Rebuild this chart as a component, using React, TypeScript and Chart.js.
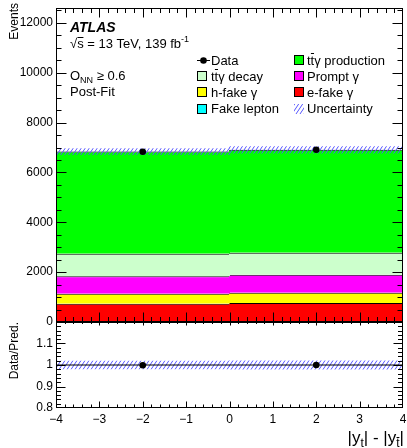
import React, { useEffect, useRef } from 'react';
import { Chart, registerables } from 'chart.js';

Chart.register(...registerables);

const FONT = '"Liberation Sans", Arial, Helvetica, sans-serif';

// ---------------- data ----------------
const binLabels = ['-4 to 0', '0 to 4'];
const binCenters = [-2, 2];
const fakeLepton = [20, 20];
const eFakeGamma = [715, 740];
const hFakeGamma = [400, 416];
const promptGamma = [705, 720];
const ttyDecay = [895, 880];
const ttyProduction = [4105, 4132];
const dataEvents = [6830, 6910];
const relUncertainty = [0.02, 0.021];
const xRange = [-4, 4];
const xTicks = [-4, -3, -2, -1, 0, 1, 2, 3, 4];
const yRangeTop = [0, 12600];
const yTicksTop = [0, 2000, 4000, 6000, 8000, 10000, 12000];
const yRangeRatio = [0.8, 1.2];
const yTicksRatio = [0.8, 0.9, 1.0, 1.1];

// ---------------- helpers ----------------
type Part = { t: string; size?: number; dy?: number; weight?: string; over?: boolean };

function drawParts(ctx: CanvasRenderingContext2D, parts: Part[], x: number, y: number, base = 13, align: 'left' | 'right' = 'left') {
  const fonts = parts.map((p) => `${p.weight ?? ''} ${p.size ?? base}px ${FONT}`.trim());
  const widths = parts.map((p, i) => {
    ctx.font = fonts[i];
    return ctx.measureText(p.t).width;
  });
  const total = widths.reduce((a, b) => a + b, 0);
  let cx = align === 'right' ? x - total : x;
  ctx.textAlign = 'left';
  ctx.textBaseline = 'alphabetic';
  ctx.fillStyle = '#000';
  parts.forEach((p, i) => {
    ctx.font = fonts[i];
    const yy = y + (p.dy ?? 0);
    ctx.fillText(p.t, cx, yy);
    if (p.over) {
      const s = p.size ?? base;
      ctx.save();
      ctx.strokeStyle = '#000';
      ctx.lineWidth = 1;
      ctx.beginPath();
      const ly = Math.round(yy - s * 0.86) + 0.5;
      ctx.moveTo(cx + 0.3, ly);
      ctx.lineTo(cx + widths[i] - 0.2, ly);
      ctx.stroke();
      ctx.restore();
    }
    cx += widths[i];
  });
}

function makeHatch(): CanvasPattern {
  const c = document.createElement('canvas');
  c.width = 4;
  c.height = 6;
  const g = c.getContext('2d')!;
  g.strokeStyle = 'rgb(85,85,255)';
  g.lineWidth = 1;
  for (const x0 of [-4, 0, 4]) {
    g.beginPath();
    g.moveTo(x0, 6);
    g.lineTo(x0 + 4, 0);
    g.stroke();
  }
  return g.createPattern(c, 'repeat')!;
}

type FrameOpts = {
  xMinor: number; yMinor: number;
  yMaj: number; yMin: number;
  xBotMaj: number; xBotMin: number;
  xTopMaj: number; xTopMin: number;
};

function framePlugin(o: FrameOpts) {
  return {
    id: 'rootFrame',
    afterDatasetsDraw(chart: any) {
      const { ctx, chartArea: a } = chart;
      const xs = chart.scales.xl;
      const ys = chart.scales.y;
      const L = Math.round(a.left) + 0.5;
      const R = Math.round(a.right) - 0.5;
      const T = Math.round(a.top) + 0.5;
      const B = Math.round(a.bottom) - 0.5;
      const clampY = (v: number) => Math.min(B, Math.max(T, v));
      const clampX = (v: number) => Math.min(R, Math.max(L, v));
      ctx.save();
      ctx.strokeStyle = '#000';
      ctx.lineWidth = 1;
      ctx.beginPath();
      const yMajVals: number[] = ys.ticks.map((t: any) => t.value);
      const ny = Math.round((ys.max - ys.min) / o.yMinor);
      for (let k = 0; k <= ny; k++) {
        const v = ys.min + k * o.yMinor;
        const isMaj = yMajVals.some((m) => Math.abs(m - v) < o.yMinor * 1e-3);
        const len = isMaj ? o.yMaj : o.yMin;
        const py = clampY(Math.round(ys.getPixelForValue(v)) + 0.5);
        ctx.moveTo(L, py); ctx.lineTo(L + len, py);
        ctx.moveTo(R, py); ctx.lineTo(R - len, py);
      }
      const xMajVals: number[] = xs.ticks.map((t: any) => t.value);
      const nx = Math.round((xs.max - xs.min) / o.xMinor);
      for (let k = 0; k <= nx; k++) {
        const v = xs.min + k * o.xMinor;
        const isMaj = xMajVals.some((m) => Math.abs(m - v) < 1e-6);
        const px = clampX(Math.round(xs.getPixelForValue(v)) + 0.5);
        const lb = isMaj ? o.xBotMaj : o.xBotMin;
        const lt = isMaj ? o.xTopMaj : o.xTopMin;
        if (lb > 0) { ctx.moveTo(px, B); ctx.lineTo(px, B - lb); }
        if (lt > 0) { ctx.moveTo(px, T); ctx.lineTo(px, T + lt); }
      }
      ctx.stroke();
      ctx.strokeRect(L, T, R - L, B - T);
      ctx.restore();
    },
  };
}

const fitY = (s: any) => {
  s.width = 56;
  s.paddingTop = 0;
  s.paddingBottom = 0;
};

const tickFont = { family: FONT, size: 12 };
const setTicks = (vals: number[]) => (s: any) => {
  s.ticks = vals.map((v) => ({ value: v }));
};

// ---------------- component ----------------
export default function App() {
  const topRef = useRef<HTMLCanvasElement>(null);
  const botRef = useRef<HTMLCanvasElement>(null);

  useEffect(() => {
    const hatch = makeHatch();

    const stack = [
      { name: 'Fake lepton', values: fakeLepton, color: '#00ffff' },
      { name: 'e-fake γ', values: eFakeGamma, color: '#ff0000' },
      { name: 'h-fake γ', values: hFakeGamma, color: '#ffff00' },
      { name: 'Prompt γ', values: promptGamma, color: '#ff00ff' },
      { name: 'ttγ decay', values: ttyDecay, color: '#ccffcc' },
      { name: 'ttγ production', values: ttyProduction, color: '#00ff00' },
    ];
    let run = binLabels.map(() => 0);
    const ranges: { name: string; color: string; data: number[][] }[] = [];
    for (const s of stack) {
      const lo = run;
      const hi = lo.map((v, i) => v + s.values[i]);
      ranges.push({ name: s.name, color: s.color, data: lo.map((v, i) => [v, hi[i]]) });
      run = hi;
    }
    const predTotal = run;
    const colorOf = (n: string) => stack.find((s) => s.name === n)!.color;

    const barCommon = {
      type: 'bar' as const,
      xAxisID: 'x',
      yAxisID: 'y',
      grouped: false,
      barPercentage: 1.006,
      categoryPercentage: 1,
      borderSkipped: false as const,
      inflateAmount: 0,
    };

    const xlBase = {
      type: 'linear',
      min: xRange[0],
      max: xRange[1],
      offset: false,
      grid: { display: false, drawTicks: false, offset: false },
      border: { display: false },
      afterBuildTicks: setTicks(xTicks),
    };

    const topAnnot = {
      id: 'topAnnot',
      afterDraw(chart: any) {
        const ctx: CanvasRenderingContext2D = chart.ctx;
        ctx.save();
        ctx.save();
        ctx.translate(18, 3);
        ctx.rotate(-Math.PI / 2);
        ctx.font = `12px ${FONT}`;
        ctx.fillStyle = '#000';
        ctx.textAlign = 'right';
        ctx.textBaseline = 'alphabetic';
        ctx.fillText('Events', 0, 0);
        ctx.restore();

        drawParts(ctx, [{ t: 'ATLAS', weight: 'italic bold', size: 14 }], 70, 32);
        drawParts(ctx, [
          { t: '√' },
          { t: 's', over: true },
          { t: ' = 13 TeV, 139 fb' },
          { t: '-1', size: 9, dy: -6 },
        ], 70, 48);
        drawParts(ctx, [{ t: 'O' }, { t: 'NN', size: 9, dy: 3 }, { t: ' ≥ 0.6' }], 70, 80);
        drawParts(ctx, [{ t: 'Post-Fit' }], 70, 96);

        // legend
        const rows = [60, 76, 92, 108.5];
        const col1Box = 197, col1Text = 211;
        const col2Box = 294, col2Text = 307;
        const box = (x: number, yc: number, fill: string | CanvasPattern, border: boolean) => {
          ctx.fillStyle = fill as any;
          ctx.fillRect(x, Math.round(yc - 5), 10, 10);
          if (border) {
            ctx.strokeStyle = '#000';
            ctx.lineWidth = 1;
            ctx.strokeRect(x + 0.5, Math.round(yc - 5) + 0.5, 9, 9);
          }
        };
        const tb = (yc: number) => yc + 4.5;
        ctx.strokeStyle = '#000';
        ctx.lineWidth = 1;
        ctx.beginPath();
        ctx.moveTo(197, Math.round(rows[0]) + 0.5);
        ctx.lineTo(210, Math.round(rows[0]) + 0.5);
        ctx.stroke();
        ctx.fillStyle = '#000';
        ctx.beginPath();
        ctx.arc(203.5, rows[0] + 0.5, 3.3, 0, Math.PI * 2);
        ctx.fill();
        drawParts(ctx, [{ t: 'Data' }], col1Text, tb(rows[0]));
        box(col2Box, rows[0], colorOf('ttγ production'), true);
        drawParts(ctx, [{ t: 't' }, { t: 't', over: true }, { t: 'γ production' }], col2Text, tb(rows[0]));
        box(col1Box, rows[1], colorOf('ttγ decay'), true);
        drawParts(ctx, [{ t: 't' }, { t: 't', over: true }, { t: 'γ decay' }], col1Text, tb(rows[1]));
        box(col2Box, rows[1], colorOf('Prompt γ'), true);
        drawParts(ctx, [{ t: 'Prompt γ' }], col2Text, tb(rows[1]));
        box(col1Box, rows[2], colorOf('h-fake γ'), true);
        drawParts(ctx, [{ t: 'h-fake γ' }], col1Text, tb(rows[2]));
        box(col2Box, rows[2], colorOf('e-fake γ'), true);
        drawParts(ctx, [{ t: 'e-fake γ' }], col2Text, tb(rows[2]));
        box(col1Box, rows[3], colorOf('Fake lepton'), true);
        drawParts(ctx, [{ t: 'Fake lepton' }], col1Text, tb(rows[3]));
        box(col2Box, rows[3], hatch, false);
        drawParts(ctx, [{ t: 'Uncertainty' }], col2Text, tb(rows[3]));
        ctx.restore();
      },
    };

    const top = new Chart(topRef.current!, {
      type: 'bar',
      data: {
        labels: binLabels,
        datasets: [
          {
            type: 'scatter',
            xAxisID: 'xl',
            yAxisID: 'y',
            data: binCenters.map((x, i) => ({ x, y: dataEvents[i] })),
            pointRadius: 3.3,
            backgroundColor: '#000',
            borderWidth: 0,
          } as any,
          {
            ...barCommon,
            label: 'Uncertainty',
            data: predTotal.map((t, i) => [t * (1 - relUncertainty[i]), t * (1 + relUncertainty[i])]),
            backgroundColor: hatch,
            borderWidth: 0,
          } as any,
          ...ranges
            .slice()
            .reverse()
            .map((r) => ({
              ...barCommon,
              label: r.name,
              data: r.data,
              backgroundColor: r.color,
              borderColor: '#000',
              borderWidth: { top: 1, left: 0, right: 0, bottom: 0 },
            }) as any),
        ],
      },
      options: {
        responsive: false,
        animation: false,
        devicePixelRatio: 1,
        events: [],
        layout: { padding: { left: 0, right: 3, top: 8, bottom: 18 } },
        plugins: { legend: { display: false }, tooltip: { enabled: false } },
        scales: {
          x: { type: 'category', labels: binLabels, offset: true, display: false },
          xl: { ...xlBase, display: false },
          y: {
            type: 'linear',
            min: yRangeTop[0],
            max: yRangeTop[1],
            afterBuildTicks: setTicks(yTicksTop),
            ticks: { padding: 3, color: '#000', font: tickFont, callback: (v: any) => String(v) },
            grid: { display: false, drawTicks: false },
            border: { display: false },
            afterFit: fitY,
          },
        },
      } as any,
      plugins: [
        framePlugin({ xMinor: 0.2, yMinor: 500, yMaj: 10, yMin: 5, xBotMaj: 9, xBotMin: 4.5, xTopMaj: 9, xTopMin: 4.5 }),
        topAnnot,
      ],
    });

    const botAnnot = {
      id: 'botAnnot',
      afterDraw(chart: any) {
        const ctx: CanvasRenderingContext2D = chart.ctx;
        ctx.save();
        ctx.save();
        ctx.translate(18, 8);
        ctx.rotate(-Math.PI / 2);
        ctx.font = `12px ${FONT}`;
        ctx.fillStyle = '#000';
        ctx.textAlign = 'right';
        ctx.textBaseline = 'alphabetic';
        ctx.fillText('Data/Pred.', 0, 0);
        ctx.restore();
        drawParts(ctx, [
          { t: '|y' },
          { t: 't', size: 12, dy: 4 },
          { t: '| - |y' },
          { t: 't', size: 12, dy: 4, over: true },
          { t: '|' },
        ], 404, 129, 17, 'right');
        ctx.restore();
      },
    };

    const bot = new Chart(botRef.current!, {
      type: 'bar',
      data: {
        labels: binLabels,
        datasets: [
          {
            type: 'scatter',
            xAxisID: 'xl',
            yAxisID: 'y',
            data: binCenters.map((x, i) => ({ x, y: dataEvents[i] / predTotal[i] })),
            pointRadius: 3.3,
            backgroundColor: '#000',
            borderWidth: 0,
          } as any,
          {
            type: 'line',
            xAxisID: 'xl',
            yAxisID: 'y',
            data: [{ x: xRange[0], y: 1 }, { x: xRange[1], y: 1 }],
            borderColor: '#000',
            borderWidth: 1,
            pointRadius: 0,
            fill: false,
          } as any,
          {
            ...barCommon,
            label: 'Uncertainty',
            data: relUncertainty.map((u) => [1 - u, 1 + u]),
            backgroundColor: hatch,
            borderWidth: 0,
          } as any,
        ],
      },
      options: {
        responsive: false,
        animation: false,
        devicePixelRatio: 1,
        events: [],
        layout: { padding: { left: 0, right: 3, top: 8, bottom: 0 } },
        plugins: { legend: { display: false }, tooltip: { enabled: false } },
        scales: {
          x: { type: 'category', labels: binLabels, offset: true, display: false },
          xl: {
            ...xlBase,
            position: 'bottom',
            ticks: {
              padding: 4,
              color: '#000',
              font: tickFont,
              maxRotation: 0,
              autoSkip: false,
              callback: (v: any) => {
                const n = Number(v);
                return n < 0 ? '\u2212' + Math.abs(n) : String(n);
              },
            },
            afterFit: (s: any) => {
              s.height = 40;
              s.paddingLeft = 0;
              s.paddingRight = 0;
            },
          },
          y: {
            type: 'linear',
            min: yRangeRatio[0],
            max: yRangeRatio[1],
            afterBuildTicks: setTicks(yTicksRatio),
            ticks: {
              padding: 3,
              color: '#000',
              font: tickFont,
              callback: (v: any) => String(Math.round(Number(v) * 10) / 10),
            },
            grid: { display: false, drawTicks: false },
            border: { display: false },
            afterFit: fitY,
          },
        },
      } as any,
      plugins: [
        framePlugin({ xMinor: 0.2, yMinor: 0.02, yMaj: 9, yMin: 4.5, xBotMaj: 6, xBotMin: 3, xTopMaj: 3, xTopMin: 1.5 }),
        botAnnot,
      ],
    });

    return () => {
      top.destroy();
      bot.destroy();
    };
  }, []);

  return (
    <div style={{ position: 'absolute', left: 0, top: 0, width: 407, height: 448, background: '#fff', overflow: 'hidden' }}>
      <canvas ref={topRef} width={407} height={340} style={{ position: 'absolute', left: 0, top: 0 }} />
      <canvas ref={botRef} width={407} height={134} style={{ position: 'absolute', left: 0, top: 314 }} />
    </div>
  );
}
